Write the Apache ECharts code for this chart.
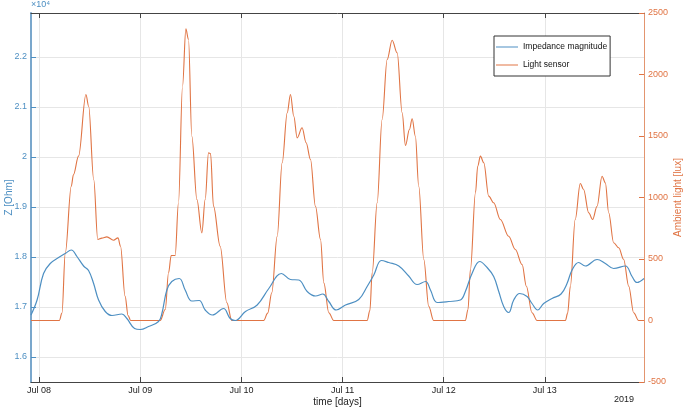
<!DOCTYPE html>
<html>
<head>
<meta charset="utf-8">
<script src="https://cdn.jsdelivr.net/npm/echarts@6.0.0/dist/echarts.min.js"></script>
<style>
  html, body { margin: 0; padding: 0; background: #fff; }
  #main { width: 685px; height: 410px; }
</style>
</head>
<body>
<div id="main"></div>
<script>
// x values are days since Jul 08 (2019)
const dayLabels = ['Jul 08', 'Jul 09', 'Jul 10', 'Jul 11', 'Jul 12', 'Jul 13'];
const dayTicks = [0, 1, 2, 3, 4, 5];
const zTicks = [1.6, 1.7, 1.8, 1.9, 2.0, 2.1, 2.2];

// impedance magnitude, Z in 10^4 Ohm
const impDays = [-0.08, -0.02, 0.044, 0.11, 0.193, 0.259, 0.318, 0.374, 0.44, 0.489, 0.539, 0.588, 0.654, 0.72, 0.818, 0.868, 0.944, 1.0, 1.082, 1.181, 1.214, 1.263, 1.312, 1.385, 1.444, 1.51, 1.583, 1.642, 1.714, 1.823, 1.889, 1.939, 2.04, 2.156, 2.271, 2.396, 2.485, 2.567, 2.65, 2.732, 2.805, 2.864, 2.937, 3.029, 3.16, 3.243, 3.309, 3.384, 3.457, 3.556, 3.654, 3.737, 3.82, 3.869, 3.935, 4.05, 4.165, 4.214, 4.28, 4.356, 4.429, 4.494, 4.544, 4.593, 4.642, 4.692, 4.751, 4.824, 4.873, 4.929, 4.988, 5.071, 5.16, 5.219, 5.269, 5.334, 5.4, 5.516, 5.598, 5.68, 5.796, 5.862, 5.911, 5.98];
const impValues = [1.684, 1.714, 1.767, 1.787, 1.799, 1.807, 1.814, 1.801, 1.782, 1.773, 1.747, 1.714, 1.691, 1.683, 1.686, 1.677, 1.657, 1.655, 1.661, 1.671, 1.687, 1.734, 1.751, 1.757, 1.734, 1.712, 1.713, 1.694, 1.684, 1.697, 1.677, 1.673, 1.691, 1.704, 1.737, 1.767, 1.755, 1.754, 1.731, 1.722, 1.726, 1.711, 1.694, 1.704, 1.715, 1.741, 1.764, 1.793, 1.789, 1.782, 1.762, 1.745, 1.751, 1.734, 1.709, 1.711, 1.714, 1.731, 1.767, 1.791, 1.779, 1.761, 1.731, 1.701, 1.689, 1.714, 1.727, 1.721, 1.707, 1.694, 1.707, 1.717, 1.726, 1.747, 1.774, 1.789, 1.782, 1.795, 1.787, 1.777, 1.782, 1.761, 1.749, 1.757];

// light sensor, lux
const lightDays = [-0.08, 0.20, 0.226, 0.259, 0.318, 0.34, 0.39, 0.463, 0.49, 0.54, 0.58, 0.62, 0.67, 0.736, 0.78, 0.805, 0.85, 0.88, 0.905,
  1.197, 1.247, 1.28, 1.306, 1.345, 1.378, 1.418, 1.451, 1.477, 1.51, 1.56, 1.609, 1.642, 1.675, 1.695, 1.724, 1.79, 1.856, 1.905,
  2.22, 2.26, 2.30, 2.354, 2.403, 2.453, 2.485, 2.518, 2.551, 2.60, 2.64, 2.683, 2.732, 2.782, 2.815, 2.864, 2.913,
  3.243, 3.27, 3.293, 3.342, 3.391, 3.441, 3.49, 3.54, 3.589, 3.622, 3.661, 3.688, 3.72, 3.753, 3.803, 3.852, 3.90,
  4.214, 4.24, 4.264, 4.314, 4.336, 4.363, 4.396, 4.445, 4.494, 4.56, 4.642, 4.708, 4.775, 4.817, 4.873, 4.923,
  5.203, 5.225, 5.252, 5.30, 5.35, 5.383, 5.433, 5.472, 5.516, 5.565, 5.598, 5.631, 5.68, 5.73, 5.779, 5.829, 5.878, 5.927, 5.98];
const lightValues = [0, 0, 60, 550, 1092, 1187, 1336, 1837, 1742, 1146, 658, 670, 680, 653, 672, 604, 198, 40, 0,
  0, 89, 388, 528, 528, 957, 1905, 2371, 2284, 1498, 984, 713, 984, 1363, 1358, 930, 604, 144, 0,
  0, 60, 225, 685, 1282, 1689, 1837, 1661, 1485, 1567, 1445, 1309, 929, 659, 306, 63, 0,
  0, 80, 388, 957, 1634, 2122, 2279, 2176, 1689, 1423, 1553, 1640, 1498, 1092, 496, 116, 0,
  0, 90, 415, 1038, 1254, 1336, 1282, 1011, 957, 821, 685, 577, 455, 279, 63, 0,
  0, 60, 279, 821, 1114, 1065, 876, 821, 929, 1173, 1119, 876, 632, 591, 496, 279, 63, 0, 0];

const blue = '#4d8fc2';
const orange = '#e07444';
const font = 'Liberation Sans, Arial, sans-serif';

function pairs(xs, ys) {
  return xs.map((x, i) => [x, ys[i]]);
}

const chart = echarts.init(document.getElementById('main'));

const option = {
  animation: false,
  backgroundColor: '#fff',
  textStyle: { fontFamily: font },
  grid: { left: 31, right: 41, top: 13, bottom: 28, outerBoundsMode: 'none', containLabel: false },
  legend: {
    orient: 'vertical',
    left: 494,
    top: 36,
    backgroundColor: '#fff',
    borderColor: '#333',
    borderWidth: 1,
    borderRadius: 0,
    padding: [6.5, 3, 6.5, 2],
    icon: 'rect',
    itemWidth: 22,
    itemHeight: 1,
    itemGap: 9,
    textStyle: { fontSize: 8.5, color: '#111', fontFamily: font },
    data: ['Impedance magnitude', 'Light sensor']
  },
  xAxis: [{
    type: 'value',
    min: -0.08,
    max: 5.98,
    position: 'bottom',
    name: 'time [days]',
    nameLocation: 'middle',
    nameGap: 15,
    nameMoveOverlap: false,
    nameTextStyle: { fontSize: 10, color: '#222' },
    axisLine: { onZero: false, lineStyle: { color: '#444', width: 1 } },
    axisTick: { inside: true, length: 5, customValues: dayTicks, lineStyle: { color: '#444' } },
    axisLabel: {
      customValues: dayTicks,
      fontSize: 9,
      color: '#222',
      margin: 4,
      formatter: v => dayLabels[Math.round(v)]
    },
    splitLine: { show: true, lineStyle: { color: '#e6e6e6', width: 1 } }
  }, {
    type: 'value',
    min: -0.08,
    max: 5.98,
    position: 'top',
    axisLine: { onZero: false, lineStyle: { color: '#444', width: 1 } },
    axisTick: { inside: true, length: 5, customValues: dayTicks, lineStyle: { color: '#444' } },
    axisLabel: { show: false, customValues: dayTicks },
    splitLine: { show: false }
  }],
  yAxis: [{
    type: 'value',
    min: 1.55,
    max: 2.288,
    position: 'left',
    name: 'Z [Ohm]',
    nameLocation: 'middle',
    nameGap: 17,
    nameMoveOverlap: false,
    nameTextStyle: { fontSize: 10, color: blue },
    axisLine: { show: true, onZero: false, lineStyle: { color: '#7aa7cc', width: 2 } },
    axisTick: { inside: true, length: 5, customValues: zTicks, lineStyle: { color: blue } },
    axisLabel: {
      customValues: zTicks,
      fontSize: 9,
      color: blue,
      margin: 4,
      formatter: v => String(Math.round(v * 10) / 10)
    },
    splitLine: { show: true, lineStyle: { color: '#e6e6e6', width: 1 } }
  }, {
    type: 'value',
    min: -500,
    max: 2500,
    interval: 500,
    position: 'right',
    name: 'Ambient light [lux]',
    nameLocation: 'middle',
    nameGap: 29,
    nameRotate: 90,
    nameMoveOverlap: false,
    nameTextStyle: { fontSize: 10, color: orange },
    axisLine: { show: true, onZero: false, lineStyle: { color: '#e3956f', width: 1 } },
    axisTick: { inside: true, length: 5, lineStyle: { color: orange } },
    axisLabel: { fontSize: 9, color: orange, margin: 4, formatter: v => String(v) },
    splitLine: { show: false }
  }],
  graphic: [{
    type: 'text',
    left: 31,
    top: 0,
    style: { text: '×10⁴', fontSize: 9, fill: blue, fontFamily: font }
  }, {
    type: 'text',
    left: 614,
    top: 395,
    style: { text: '2019', fontSize: 9, fill: '#222', fontFamily: font }
  }],
  series: [{
    name: 'Impedance magnitude',
    type: 'line',
    xAxisIndex: 0,
    yAxisIndex: 0,
    smooth: 0.4,
    symbol: 'none',
    lineStyle: { color: blue, width: 1.2 },
    itemStyle: { color: blue },
    data: pairs(impDays, impValues),
    z: 3
  }, {
    name: 'Light sensor',
    type: 'line',
    xAxisIndex: 0,
    yAxisIndex: 1,
    smooth: 0.35,
    smoothMonotone: 'x',
    symbol: 'none',
    lineStyle: { color: orange, width: 1.1 },
    itemStyle: { color: orange },
    data: pairs(lightDays, lightValues),
    z: 2
  }]
};

chart.setOption(option);
</script>
</body>
</html>
